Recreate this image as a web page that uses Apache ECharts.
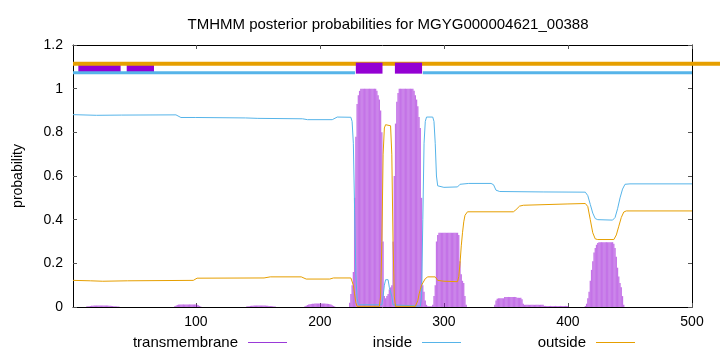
<!DOCTYPE html>
<html><head><meta charset="utf-8">
<script src="https://cdn.jsdelivr.net/npm/echarts@6/dist/echarts.min.js"></script>
<style>html,body{margin:0;padding:0;background:#fff}#c{width:720px;height:352px}</style>
</head><body><div id="c"></div>
<script>
const titleText = 'TMHMM posterior probabilities for MGYG000004621_00388';
const xTickValues = [100, 200, 300, 400, 500];
const seriesNames = ['transmembrane', 'inside', 'outside'];

// transmembrane probability impulses: [first residue, values...]
const tmRuns = [
  [12, [0.002,0.003,0.004,0.005,0.006,0.006,0.007,0.007,0.007,0.007,0.007,0.007,0.007,0.007,0.007,0.007,0.007,0.007,0.006,0.006,0.005,0.005,0.004,0.003,0.003,0.002,0.002]],
  [83, [0.003,0.006,0.009,0.011,0.012,0.012,0.012,0.012,0.012,0.012,0.012,0.012,0.012,0.012,0.012,0.012,0.012,0.011,0.01,0.008,0.005,0.002]],
  [141, [0.002,0.003,0.004,0.005,0.006,0.006,0.007,0.007,0.007,0.007,0.007,0.007,0.007,0.007,0.007,0.007,0.006,0.006,0.005,0.005,0.004,0.003,0.002,0.002]],
  [188, [0.003,0.006,0.009,0.011,0.013,0.014,0.015,0.015,0.016,0.016,0.016,0.016,0.016,0.016,0.016,0.016,0.016,0.015,0.015,0.014,0.013,0.011,0.008,0.005,0.002]],
  [224, [0.02,0.06,0.1,0.16,0.5,0.78,0.93,0.97,0.99,
         1,1,1,1,1,1,1,1,1,1,1,1,1,
         0.99,0.97,0.95,0.9,0.8,0.3,0.05,0.04,0.05,0.06,0.08,0.09,0.1,0.3,0.6,0.84,0.94,0.98,
         1,1,1,1,1,1,1,1,1,1,1,1,
         0.99,0.97,0.95,0.92,0.87,0.82,0.5,0.1,0.07,0.03,0.01,0.003,0.003,0.003,0.003,0.01,
         0.05,0.1,0.3,0.33,
         0.34,0.34,0.34,0.34,0.34,0.34,0.34,0.34,0.34,0.34,0.34,0.34,0.34,0.34,0.34,0.34,
         0.33,0.21,0.15,0.12,0.11,0.05,0.01]],
  [341, [0.01,0.03,0.038,0.04,0.04,0.04,0.04,0.04,
         0.046,0.046,0.046,0.046,0.046,0.046,0.046,0.046,0.046,0.046,
         0.042,0.042,0.042,0.042,0.035,0.015,
         0.01,0.01,0.01,0.01,0.01,0.01,0.01,0.01,0.01,0.01,0.01,0.01,0.01,0.01,0.01,0.01,
         0.005,0.005,0.005,0.005,0.005,0.005,0.005,0.005,0.005,0.005,0.005,0.005,0.005,0.005,0.005,0.005,0.005,0.005,0.005,0.005]],
  [414, [0.005,0.015,0.04,0.07,0.12,0.17,0.21,0.25,0.27,0.285,0.293,
         0.297,0.297,0.297,0.297,0.297,0.297,0.297,0.297,0.297,0.297,0.297,0.297,
         0.29,0.27,0.23,0.18,0.14,0.11,0.09,0.05,0.01]]
];

const insidePts = [[1,0.881],[20,0.878],[40,0.879],[84,0.880],[88,0.868],[100,0.868],[140,0.866],[150,0.864],
  [186,0.862],[190,0.858],[210,0.858],[214,0.870],[225,0.869],[226,0.85],[227,0.75],[228,0.45],[229,0.15],
  [230,0.04],[231,0.01],[232,0.002],[250,0.01],[251,0.05],[252,0.1],[253,0.125],[254,0.132],[255,0.125],
  [256,0.09],[257,0.085],[258,0.05],[259,0.01],[260,0.002],[281,0.004],[282,0.05],[283,0.4],[284,0.75],
  [285,0.85],[286,0.87],[291,0.87],[292,0.85],[293,0.75],[294,0.6],[295,0.555],[300,0.548],[311,0.55],
  [313,0.562],[320,0.566],[338,0.566],[340,0.56],[342,0.535],[345,0.529],[380,0.527],[414,0.526],
  [416,0.51],[418,0.47],[420,0.43],[422,0.405],[424,0.4],[436,0.398],[438,0.41],[440,0.45],[442,0.5],
  [444,0.54],[446,0.562],[450,0.564],[500,0.564]];

const outsidePts = [[1,0.122],[15,0.12],[25,0.118],[45,0.12],[98,0.122],[101,0.132],[155,0.133],[160,0.138],
  [185,0.138],[189,0.128],[208,0.128],[211,0.133],[225,0.133],[226,0.13],[227,0.1],[228,0.06],[229,0.02],
  [230,0.003],[248,0.003],[249,0.05],[250,0.3],[251,0.7],[252,0.82],[253,0.835],[257,0.83],[258,0.7],
  [259,0.3],[260,0.05],[261,0.003],[277,0.003],[278,0.01],[279,0.03],[280,0.06],[281,0.08],[282,0.1],
  [283,0.11],[285,0.13],[287,0.138],[293,0.138],[295,0.122],[300,0.118],[311,0.116],[312,0.14],[313,0.2],
  [314,0.28],[315,0.34],[316,0.39],[317,0.42],[319,0.436],[356,0.436],[358,0.445],[361,0.462],[364,0.466],
  [400,0.472],[414,0.474],[416,0.46],[418,0.4],[420,0.34],[422,0.312],[424,0.309],[437,0.309],[439,0.33],
  [441,0.37],[443,0.41],[445,0.435],[447,0.44],[500,0.44]];

// predicted topology track segments [from, to]
const outsideTrack = [[1, 524]];
const insideTrack = [[1, 228.3], [283, 500]];
const tmTrack = [[229, 250.5], [260.5, 282.4]];
const earlyTrack = [[5.3, 39.4], [44.3, 66.3]];
const trackLevels = { outside: 1.114, inside: 1.073, tm: 1.094 };

const C_TM = '#9400D3', C_IN = '#56B4E9', C_OUT = '#E69F00';
const FONT = 'Liberation Sans';

const tmData = [];
tmRuns.forEach(([s, vals]) => vals.forEach((v, i) => tmData.push([s + i, v])));

function trackSeries(segs, level, color, width, z, name) {
  return {
    name: name, type: 'custom', xAxisIndex: 0, yAxisIndex: 0, clip: false, silent: true, z: z,
    data: segs.map(s => [s[0], level, s[1]]),
    encode: { x: 0, y: 1 },
    renderItem: function (params, api) {
      const p0 = api.coord([api.value(0), api.value(1)]);
      const p1 = api.coord([api.value(2), api.value(1)]);
      return { type: 'line', shape: { x1: p0[0], y1: p0[1], x2: p1[0], y2: p1[1] },
        style: { stroke: color, lineWidth: width, lineCap: 'butt' } };
    }
  };
}

const axisCommon = {
  type: 'value', min: 1, max: 500,
  axisLine: { show: true, onZero: false, lineStyle: { color: '#000', width: 1 } },
  axisTick: { show: true, inside: true, length: 4, customValues: xTickValues, lineStyle: { color: '#555' } },
  splitLine: { show: false }
};

const legendCommon = { top: 335, align: 'right', padding: 0, icon: 'rect', itemWidth: 39, itemHeight: 1,
  textStyle: { fontFamily: FONT, fontSize: 15, color: '#000', padding: [0, 5, 0, 0] } };

const chart = echarts.init(document.getElementById('c'), null, { renderer: 'canvas' });
chart.setOption({
  animation: false,
  backgroundColor: '#fff',
  title: { text: titleText, left: 383, top: 12, textAlign: 'center',
    textStyle: { fontFamily: FONT, fontSize: 15, fontWeight: 'normal', color: '#000' } },
  grid: { left: 73, right: 28, top: 45, bottom: 45, containLabel: false },
  xAxis: [
    Object.assign({}, axisCommon, { position: 'bottom',
      axisLabel: { show: true, customValues: xTickValues, margin: 8, fontFamily: FONT, fontSize: 14, color: '#000' } }),
    Object.assign({}, axisCommon, { position: 'top', axisLabel: { show: false } })
  ],
  yAxis: [
    { type: 'value', min: 0, max: 1.2, interval: 0.2, position: 'left',
      name: 'probability', nameLocation: 'middle', nameGap: 48,
      nameTextStyle: { fontFamily: FONT, fontSize: 14, color: '#000' },
      axisLine: { show: true, lineStyle: { color: '#000' } },
      axisTick: { show: true, inside: true, length: 4, lineStyle: { color: '#555' } },
      axisLabel: { margin: 10, fontFamily: FONT, fontSize: 14, color: '#000' },
      splitLine: { show: false } },
    { type: 'value', min: 0, max: 1.2, interval: 0.2, position: 'right',
      axisLine: { show: true, lineStyle: { color: '#000' } },
      axisTick: { show: true, inside: true, length: 4, lineStyle: { color: '#555' } },
      axisLabel: { show: false }, splitLine: { show: false } }
  ],
  legend: [
    Object.assign({}, legendCommon, { data: [{ name: 'transmembrane', itemStyle: { color: '#9a3ad8' } }], right: 720 - 287 }),
    Object.assign({}, legendCommon, { data: [{ name: 'inside', itemStyle: { color: C_IN } }], right: 720 - 461 }),
    Object.assign({}, legendCommon, { data: [{ name: 'outside', itemStyle: { color: C_OUT } }], right: 720 - 635 })
  ],
  series: [
    trackSeries(earlyTrack, trackLevels.tm, C_TM, 11, 1, 'earlyTrack'),
    trackSeries(outsideTrack, trackLevels.outside, C_OUT, 4, 2, 'outsideTrack'),
    trackSeries(insideTrack, trackLevels.inside, C_IN, 3, 3, 'insideTrack'),
    trackSeries(tmTrack, trackLevels.tm, C_TM, 11, 4, 'tmTrack'),
    { name: 'transmembrane', type: 'bar', data: tmData, barWidth: 1.25, z: 2,
      itemStyle: { color: 'rgba(148,0,211,0.55)' } },
    { name: 'inside', type: 'line', data: insidePts, showSymbol: false, z: 5,
      lineStyle: { color: C_IN, width: 1 }, itemStyle: { color: C_IN } },
    { name: 'outside', type: 'line', data: outsidePts, showSymbol: false, z: 5,
      lineStyle: { color: C_OUT, width: 1 }, itemStyle: { color: C_OUT } }
  ]
});
</script></body></html>
